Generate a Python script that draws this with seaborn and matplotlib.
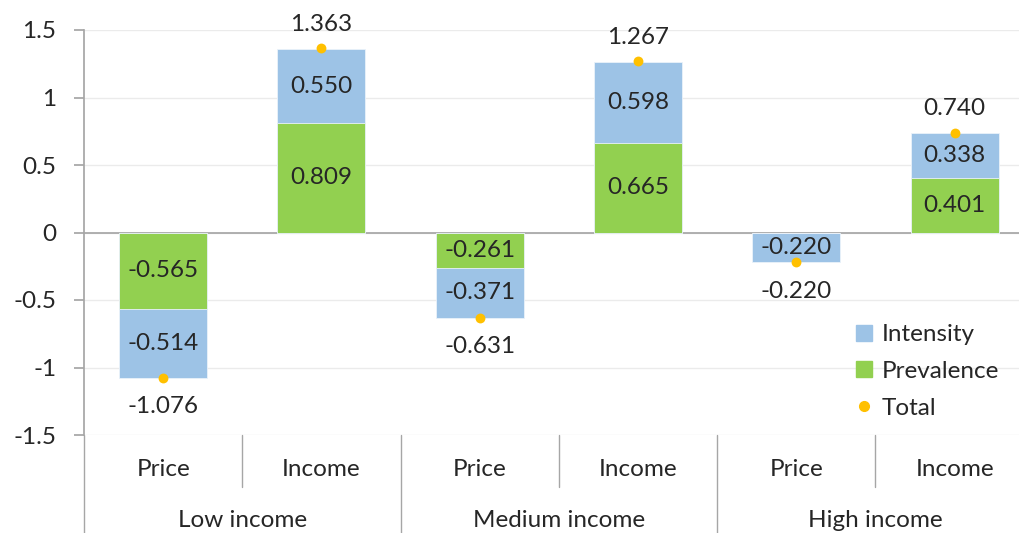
import numpy as np
import pandas as pd
import matplotlib
matplotlib.use("Agg")
import matplotlib.pyplot as plt
import seaborn as sns
from matplotlib.lines import Line2D
from matplotlib.transforms import blended_transform_factory

groups = ["Low income", "Medium income", "High income"]
effects = ["Price", "Income"]
prevalence = [-0.565, 0.809, -0.261, 0.665, 0.0, 0.401]
intensity = [-0.514, 0.550, -0.371, 0.598, -0.220, 0.338]
total = [-1.076, 1.363, -0.631, 1.267, -0.220, 0.740]

blue = "#9DC3E6"
green = "#92D050"
orange = "#FFC000"
gray = "#A6A6A6"
fs = 17.5

sns.set_theme(style="white")
plt.rcParams["font.family"] = ["Lato", "DejaVu Sans"]

df = pd.DataFrame({
    "slot": [g + "|" + e for g in groups for e in effects],
    "prev": prevalence,
    "inten": intensity,
    "total": total,
})
df["stack"] = df["prev"] + df["inten"]

fig = plt.figure(figsize=(10.19, 5.33), dpi=100)
ax = fig.add_axes([84 / 1019, (533 - 435) / 533, 6 * 158.3 / 1019, 405 / 533])

# stacked bars: cumulative first, prevalence on top of it
sns.barplot(data=df, x="slot", y="stack", color=blue, width=0.556, saturation=1,
            errorbar=None, ax=ax, zorder=2, linewidth=0.6, edgecolor="#EAF2FA")
sns.barplot(data=df, x="slot", y="prev", color=green, width=0.556, saturation=1,
            errorbar=None, ax=ax, zorder=3, linewidth=0.6, edgecolor="#EAF2FA")
ax.scatter(np.arange(len(total)), total, s=50, color=orange, zorder=5, linewidths=0)

# segment labels
for i, row in df.iterrows():
    if row["prev"] != 0:
        ax.text(i, row["prev"] / 2, "%.3f" % row["prev"], ha="center", va="center",
                fontsize=fs, zorder=6)
    ax.text(i, row["prev"] + row["inten"] / 2, "%.3f" % row["inten"], ha="center",
            va="center", fontsize=fs, zorder=6)
    off = 17 if row["total"] > 0 else -21
    ax.annotate("%.3f" % row["total"], (i, row["total"]), xytext=(0, off),
                textcoords="offset points", ha="center", va="center", fontsize=fs)

ax.set_xlim(-0.5, 5.5)
ax.set_ylim(-1.5, 1.5)
ax.set_yticks([-1.5, -1, -0.5, 0, 0.5, 1, 1.5])
ax.set_yticklabels(["-1.5", "-1", "-0.5", "0", "0.5", "1", "1.5"])
ax.set_xlabel("")
ax.set_ylabel("")
ax.yaxis.grid(True, color="#EBEBEB", lw=1, zorder=0)
ax.set_axisbelow(True)

for s in ["top", "right"]:
    ax.spines[s].set_visible(False)
ax.spines["left"].set_color(gray)
ax.spines["bottom"].set_color(gray)
ax.spines["bottom"].set_position(("data", 0))
ax.spines["bottom"].set_zorder(1.5)

ax.set_xticks(range(6))
ax.set_xticklabels([""] * 6)
ax.set_xticks(np.arange(0.5, 5.5, 1), minor=True)
ax.tick_params(axis="x", which="major", length=0)
ax.tick_params(axis="x", which="minor", direction="in", length=7, color=gray, width=1)
ax.tick_params(axis="y", which="major", left=True, direction="out", length=7,
               color=gray, labelsize=fs, pad=13)

# category axis below the plot
trans = blended_transform_factory(ax.transData, ax.transAxes)
for i, row in df.iterrows():
    ax.text(i, -0.086, row["slot"].split("|")[1], transform=trans, ha="center",
            va="center", fontsize=fs)
for k, g in enumerate(groups):
    ax.text(2 * k + 0.5, -0.21, g, transform=trans, ha="center", va="center", fontsize=fs)
for x in [0.5, 2.5, 4.5]:
    ax.plot([x, x], [0, -0.128], transform=trans, color=gray, lw=1, clip_on=False)
for x in [-0.5, 1.5, 3.5]:
    ax.plot([x, x], [0, -0.25], transform=trans, color=gray, lw=1, clip_on=False)

handles = [
    Line2D([], [], marker="s", ls="none", color=blue, markersize=11),
    Line2D([], [], marker="s", ls="none", color=green, markersize=11),
    Line2D([], [], marker="o", ls="none", color=orange, markersize=7),
]
fig.legend(handles, ["Intensity", "Prevalence", "Total"], loc="upper left",
           bbox_to_anchor=(855 / 1019, 1 - 324 / 533), frameon=False, fontsize=fs,
           handlelength=0.7, handletextpad=0.4, labelspacing=0.65, borderpad=0,
           borderaxespad=0)

fig.savefig("out.png", dpi=100)
